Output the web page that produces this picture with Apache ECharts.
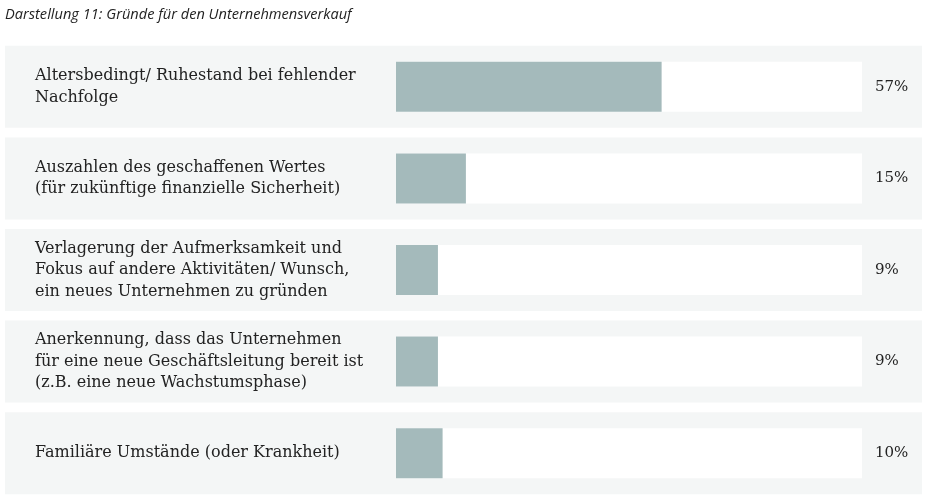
<!DOCTYPE html>
<html><head><meta charset="utf-8">
<script src="https://cdn.jsdelivr.net/npm/echarts@6/dist/echarts.min.js"></script>
<style>html,body{margin:0;padding:0;background:#fff}#c{width:927px;height:501px}</style>
</head><body><div id="c"></div>
<script>
const titleText = 'Darstellung 11: Gründe für den Unternehmensverkauf';
const categories = [
  'Altersbedingt/ Ruhestand bei fehlender\nNachfolge',
  'Auszahlen des geschaffenen Wertes\n(für zukünftige finanzielle Sicherheit)',
  'Verlagerung der Aufmerksamkeit und\nFokus auf andere Aktivitäten/ Wunsch,\nein neues Unternehmen zu gründen',
  'Anerkennung, dass das Unternehmen\nfür eine neue Geschäftsleitung bereit ist\n(z.B. eine neue Wachstumsphase)',
  'Familiäre Umstände (oder Krankheit)'
];
const values = [57, 15, 9, 9, 10];
const maxValue = 100;

const chart = echarts.init(document.getElementById('c'), null, {renderer: 'canvas'});
const TOP = 41, BOTTOM = 2;
const textFont = 'DejaVu Serif';
chart.setOption({
  animation: false,
  backgroundColor: '#ffffff',
  title: {
    text: titleText, left: 0, top: 2,
    textStyle: {fontFamily: 'Open Sans', fontStyle: 'italic', fontWeight: 'normal', fontSize: 14.6, color: '#222'}
  },
  grid: [
    {left: 396, right: 927 - 862, top: TOP, bottom: BOTTOM},
    {left: 5, right: 5, top: TOP, bottom: BOTTOM}
  ],
  xAxis: [
    {gridIndex: 0, type: 'value', min: 0, max: maxValue, show: false},
    {gridIndex: 1, type: 'value', min: 0, max: maxValue, show: false}
  ],
  yAxis: [
    {gridIndex: 0, type: 'category', data: categories, inverse: true, z: 10,
     axisLine: {show: false}, axisTick: {show: false}, splitLine: {show: false},
     axisLabel: {align: 'left', margin: 396 - 35, fontFamily: textFont, fontSize: 16, lineHeight: 21.5, color: '#222'}},
    {gridIndex: 0, type: 'category', data: values.map(v => v + '%'), inverse: true, position: 'right', z: 10,
     axisLine: {show: false}, axisTick: {show: false}, splitLine: {show: false},
     axisLabel: {align: 'left', margin: 13, fontFamily: textFont, fontSize: 15, color: '#222'}},
    {gridIndex: 1, type: 'category', data: categories, inverse: true, show: false}
  ],
  series: [
    {type: 'bar', xAxisIndex: 1, yAxisIndex: 2, data: values.map(() => maxValue), barWidth: 82,
     itemStyle: {color: '#f4f6f6'}, silent: true, z: 1},
    {type: 'bar', xAxisIndex: 0, yAxisIndex: 0, data: values, barWidth: 50,
     showBackground: true, backgroundStyle: {color: '#ffffff'},
     itemStyle: {color: '#a4babb'}, z: 3}
  ]
});
</script></body></html>
